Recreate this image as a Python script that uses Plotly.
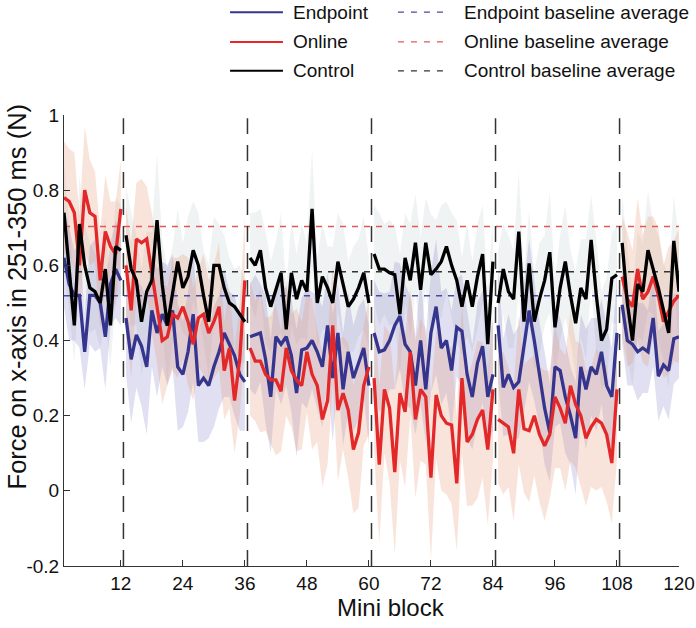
import plotly.graph_objects as go

# ---------------- data ----------------
mini_block = list(range(1, 121))
block_sizes = [12, 24, 24, 24, 24, 12]
block_edges = [12.5, 36.5, 60.5, 84.5, 108.5]

x_tickvals = [12, 24, 36, 48, 60, 72, 84, 96, 108, 120]
y_tickvals = [-0.2, 0, 0.2, 0.4, 0.6, 0.8, 1]
y_ticktext = ["-0.2", "0", "0.2", "0.4", "0.6", "0.8", "1"]

endpoint = (
    [0.62, 0.55, 0.52, 0.52, 0.37, 0.52, 0.52, 0.50, 0.41, 0.55, 0.59, 0.56]
    + [0.46, 0.35, 0.415, 0.385, 0.33, 0.48, 0.42, 0.47, 0.44, 0.48, 0.33, 0.31,
       0.37, 0.47, 0.28, 0.30, 0.28, 0.33, 0.37, 0.42, 0.39, 0.36, 0.31, 0.29]
    + [0.41, 0.415, 0.42, 0.35, 0.25, 0.41, 0.39, 0.41, 0.36, 0.26, 0.375, 0.38,
       0.40, 0.37, 0.33, 0.44, 0.30, 0.42, 0.27, 0.37, 0.30, 0.34, 0.38, 0.28]
    + [0.42, 0.37, 0.375, 0.40, 0.44, 0.465, 0.39, 0.37, 0.28, 0.40, 0.27, 0.42,
       0.49, 0.38, 0.40, 0.32, 0.435, 0.425, 0.31, 0.25, 0.34, 0.385, 0.25, 0.31]
    + [0.44, 0.275, 0.31, 0.275, 0.29, 0.38, 0.48, 0.40, 0.31, 0.22, 0.155, 0.33,
       0.32, 0.25, 0.20, 0.14, 0.33, 0.27, 0.33, 0.31, 0.37, 0.28, 0.25, 0.42]
    + [0.495, 0.40, 0.39, 0.37, 0.38, 0.37, 0.46, 0.305, 0.335, 0.32, 0.405, 0.41]
)
online = (
    [0.78, 0.77, 0.74, 0.60, 0.80, 0.74, 0.73, 0.56, 0.69, 0.65, 0.63, 0.75]
    + [0.60, 0.48, 0.67, 0.66, 0.67, 0.58, 0.49, 0.40, 0.41, 0.47, 0.46, 0.49,
       0.45, 0.39, 0.46, 0.47, 0.42, 0.45, 0.49, 0.32, 0.38, 0.24, 0.35, 0.56]
    + [0.38, 0.345, 0.345, 0.31, 0.295, 0.295, 0.265, 0.38, 0.32, 0.295, 0.28, 0.37,
       0.31, 0.28, 0.19, 0.24, 0.44, 0.215, 0.26, 0.215, 0.11, 0.155, 0.28, 0.33]
    + [0.30, 0.07, 0.27, 0.22, 0.05, 0.26, 0.21, 0.37, 0.19, 0.27, 0.25, 0.035,
       0.255, 0.20, 0.18, 0.175, 0.02, 0.30, 0.13, 0.15, 0.19, 0.215, 0.11, 0.27]
    + [0.19, 0.18, 0.17, 0.10, 0.27, 0.165, 0.16, 0.20, 0.15, 0.12, 0.15, 0.25,
       0.22, 0.18, 0.28, 0.23, 0.20, 0.14, 0.17, 0.19, 0.18, 0.15, 0.074, 0.27]
    + [0.57, 0.51, 0.49, 0.59, 0.51, 0.53, 0.57, 0.52, 0.45, 0.48, 0.505, 0.52]
)
control = (
    [0.74, 0.60, 0.44, 0.71, 0.60, 0.54, 0.53, 0.50, 0.59, 0.44, 0.65, 0.64]
    + [0.68, 0.59, 0.56, 0.45, 0.53, 0.56, 0.72, 0.55, 0.44, 0.52, 0.61, 0.54,
       0.57, 0.64, 0.60, 0.52, 0.45, 0.60, 0.60, 0.54, 0.50, 0.49, 0.47, 0.45]
    + [0.62, 0.60, 0.64, 0.54, 0.49, 0.535, 0.58, 0.43, 0.58, 0.51, 0.56, 0.53,
       0.75, 0.50, 0.57, 0.54, 0.50, 0.61, 0.55, 0.49, 0.51, 0.54, 0.58, 0.50]
    + [0.63, 0.59, 0.59, 0.58, 0.575, 0.47, 0.62, 0.56, 0.66, 0.535, 0.66, 0.575,
       0.59, 0.61, 0.65, 0.60, 0.56, 0.49, 0.56, 0.49, 0.57, 0.63, 0.39, 0.61]
    + [0.50, 0.59, 0.53, 0.51, 0.69, 0.45, 0.605, 0.45, 0.51, 0.56, 0.635, 0.435,
       0.54, 0.61, 0.52, 0.446, 0.54, 0.51, 0.668, 0.52, 0.40, 0.43, 0.565, 0.575]
    + [0.66, 0.50, 0.40, 0.55, 0.53, 0.64, 0.59, 0.54, 0.48, 0.42, 0.665, 0.53]
)

# spread (half-width of shaded band)
endpoint_sd = (
    [0.13, 0.15, 0.12, 0.14, 0.10, 0.13, 0.15, 0.12, 0.14, 0.11, 0.13, 0.12]
    + [0.15, 0.17, 0.14, 0.16, 0.18, 0.15, 0.17, 0.14, 0.16, 0.15, 0.17, 0.14,
       0.16, 0.18, 0.15, 0.17, 0.14, 0.16, 0.15, 0.17, 0.14, 0.16, 0.15, 0.13]
    + [0.14, 0.16, 0.13, 0.17, 0.15, 0.14, 0.16, 0.13, 0.15, 0.17, 0.14, 0.16,
       0.13, 0.15, 0.16, 0.14, 0.17, 0.13, 0.15, 0.16, 0.14, 0.15, 0.13, 0.16]
    + [0.14, 0.16, 0.15, 0.13, 0.17, 0.14, 0.16, 0.15, 0.13, 0.17, 0.14, 0.16,
       0.18, 0.15, 0.14, 0.16, 0.13, 0.15, 0.17, 0.14, 0.16, 0.15, 0.13, 0.15]
    + [0.15, 0.13, 0.16, 0.14, 0.15, 0.17, 0.19, 0.16, 0.14, 0.15, 0.13, 0.16,
       0.14, 0.15, 0.13, 0.15, 0.14, 0.16, 0.13, 0.15, 0.14, 0.16, 0.13, 0.15]
    + [0.10, 0.12, 0.11, 0.13, 0.12, 0.11, 0.13, 0.12, 0.11, 0.13, 0.12, 0.11]
)
online_sd = (
    [0.15, 0.14, 0.16, 0.13, 0.17, 0.14, 0.12, 0.13, 0.15, 0.12, 0.14, 0.13]
    + [0.16, 0.18, 0.15, 0.17, 0.14, 0.16, 0.15, 0.17, 0.13, 0.15, 0.16, 0.14,
       0.17, 0.15, 0.13, 0.16, 0.14, 0.15, 0.17, 0.13, 0.16, 0.14, 0.15, 0.17]
    + [0.18, 0.16, 0.19, 0.15, 0.17, 0.20, 0.16, 0.18, 0.15, 0.19, 0.17, 0.16,
       0.20, 0.15, 0.18, 0.17, 0.16, 0.19, 0.15, 0.18, 0.17, 0.20, 0.16, 0.18]
    + [0.19, 0.21, 0.17, 0.20, 0.22, 0.18, 0.20, 0.17, 0.21, 0.19, 0.18, 0.22,
       0.17, 0.20, 0.19, 0.21, 0.18, 0.20, 0.17, 0.19, 0.21, 0.18, 0.20, 0.19]
    + [0.17, 0.19, 0.16, 0.18, 0.20, 0.17, 0.19, 0.16, 0.18, 0.20, 0.17, 0.19,
       0.16, 0.18, 0.20, 0.17, 0.19, 0.18, 0.16, 0.19, 0.17, 0.18, 0.16, 0.19]
    + [0.16, 0.18, 0.15, 0.19, 0.17, 0.20, 0.16, 0.18, 0.15, 0.17, 0.16, 0.18]
)
control_sd = (
    [0.14, 0.12, 0.10, 0.13, 0.11, 0.12, 0.10, 0.12, 0.14, 0.11, 0.13, 0.12]
    + [0.13, 0.15, 0.12, 0.14, 0.16, 0.13, 0.18, 0.12, 0.15, 0.13, 0.14, 0.12,
       0.16, 0.13, 0.14, 0.12, 0.15, 0.13, 0.11, 0.14, 0.12, 0.10, 0.13, 0.11]
    + [0.12, 0.14, 0.11, 0.15, 0.12, 0.13, 0.16, 0.11, 0.14, 0.12, 0.15, 0.13,
       0.16, 0.12, 0.14, 0.11, 0.15, 0.13, 0.16, 0.12, 0.14, 0.13, 0.15, 0.12]
    + [0.13, 0.15, 0.12, 0.14, 0.13, 0.16, 0.12, 0.15, 0.13, 0.14, 0.12, 0.16,
       0.13, 0.15, 0.12, 0.14, 0.16, 0.13, 0.15, 0.12, 0.14, 0.13, 0.15, 0.12]
    + [0.14, 0.12, 0.15, 0.13, 0.16, 0.12, 0.14, 0.13, 0.15, 0.12, 0.16, 0.13,
       0.14, 0.15, 0.12, 0.14, 0.13, 0.16, 0.12, 0.15, 0.13, 0.14, 0.12, 0.13]
    + [0.13, 0.15, 0.12, 0.14, 0.13, 0.16, 0.12, 0.14, 0.13, 0.15, 0.12, 0.14]
)

baseline = {"Endpoint": 0.519, "Online": 0.703, "Control": 0.583}

series_names = ["Endpoint", "Online", "Control"]
line_colors = {"Endpoint": "#36358e", "Online": "#e3282a", "Control": "#000000"}
band_colors = {"Endpoint": "rgba(100,100,190,0.20)",
               "Online": "rgba(230,140,100,0.23)",
               "Control": "rgba(200,212,212,0.28)"}
base_colors = {"Endpoint": "#4a4aa0", "Online": "#e05a5a", "Control": "#333333"}
values = {"Endpoint": endpoint, "Online": online, "Control": control}
spreads = {"Endpoint": endpoint_sd, "Online": online_sd, "Control": control_sd}

FONT = "Liberation Sans, Arial, sans-serif"


def line_xy(vals):
    xs, ys, start = [], [], 0
    for n in block_sizes:
        xs += mini_block[start:start + n] + [None]
        ys += vals[start:start + n] + [None]
        start += n
    return xs, ys


def band_xy(vals, sd):
    xs, ys, start = [], [], 0
    for n in block_sizes:
        x = mini_block[start:start + n]
        m = vals[start:start + n]
        s = sd[start:start + n]
        up = [a + b for a, b in zip(m, s)]
        lo = [a - b for a, b in zip(m, s)]
        xs += x + x[::-1] + [None]
        ys += up + lo[::-1] + [None]
        start += n
    return xs, ys


fig = go.Figure()

# bands
for name in ["Control", "Endpoint", "Online"]:
    bx, by = band_xy(values[name], spreads[name])
    fig.add_trace(go.Scatter(x=bx, y=by, fill="toself", mode="none",
                             fillcolor=band_colors[name], hoverinfo="skip",
                             showlegend=False))

# baseline averages
for name in series_names:
    fig.add_trace(go.Scatter(x=[mini_block[0], mini_block[-1]],
                             y=[baseline[name], baseline[name]],
                             mode="lines",
                             line=dict(color=base_colors[name], width=1.5,
                                       dash="6px,6px"),
                             showlegend=False, hoverinfo="skip"))

# lines
for name in ["Endpoint", "Online", "Control"]:
    lx, ly = line_xy(values[name])
    fig.add_trace(go.Scatter(x=lx, y=ly, mode="lines",
                             line=dict(color=line_colors[name], width=3.3),
                             connectgaps=False, showlegend=False, name=name))

# block separators
for e in block_edges:
    fig.add_shape(type="line", x0=e, x1=e, xref="x", y0=0, y1=0.993,
                  yref="paper",
                  line=dict(color="#333333", width=1.5, dash="16px,11px"))

# manual legend
rows_y = [1.228, 1.162, 1.098]
for name, ry in zip(series_names, rows_y):
    fig.add_shape(type="line", xref="paper", yref="paper", x0=0.270, x1=0.356,
                  y0=ry, y1=ry, line=dict(color=line_colors[name], width=2))
    fig.add_annotation(xref="paper", yref="paper", x=0.369, y=ry, text=name,
                       showarrow=False, xanchor="left", yanchor="middle",
                       font=dict(family=FONT, size=19, color="#111"))
    fig.add_shape(type="line", xref="paper", yref="paper", x0=0.543, x1=0.623,
                  y0=ry, y1=ry,
                  line=dict(color=base_colors[name], width=1.2, dash="6px,7px"))
    fig.add_annotation(xref="paper", yref="paper", x=0.647, y=ry,
                       text=name + " baseline average",
                       showarrow=False, xanchor="left", yanchor="middle",
                       font=dict(family=FONT, size=19, color="#111"))

# axis titles
fig.add_annotation(xref="paper", yref="paper", x=-0.077, y=0.597,
                   text="Force on x-axis in 251-350 ms (N)", textangle=-90,
                   showarrow=False, xanchor="center", yanchor="middle",
                   font=dict(family=FONT, size=25.5, color="#111"))
fig.add_annotation(xref="paper", yref="paper", x=0.532, y=-0.093,
                   text="Mini block", showarrow=False,
                   xanchor="center", yanchor="middle",
                   font=dict(family=FONT, size=24, color="#111"))

fig.update_layout(
    width=696, height=628, autosize=False,
    margin=dict(l=64, r=17, t=115, b=62, autoexpand=False),
    paper_bgcolor="white", plot_bgcolor="white",
    font=dict(family=FONT, size=19, color="#111"),
    showlegend=False,
)
fig.update_xaxes(range=[1, 120], tickvals=x_tickvals, ticks="inside",
                 ticklen=6, tickcolor="#333", showline=True, linecolor="#333",
                 linewidth=1, showgrid=False, zeroline=False,
                 automargin=False, ticklabeloverflow="allow",
                 tickfont=dict(family=FONT, size=19, color="#111"))
fig.update_yaxes(range=[-0.2, 1], tickvals=y_tickvals, ticktext=y_ticktext,
                 ticks="inside", ticklen=6, tickcolor="#333", showline=True,
                 linecolor="#333", linewidth=1, showgrid=False, zeroline=False,
                 automargin=False,
                 tickfont=dict(family=FONT, size=19, color="#111"))

# remove the browser's default 8px body margin so the figure fills the window
fig.write_html("out.html",
               config={"displayModeBar": False, "responsive": False},
               post_script="document.body.style.margin='0px';")
